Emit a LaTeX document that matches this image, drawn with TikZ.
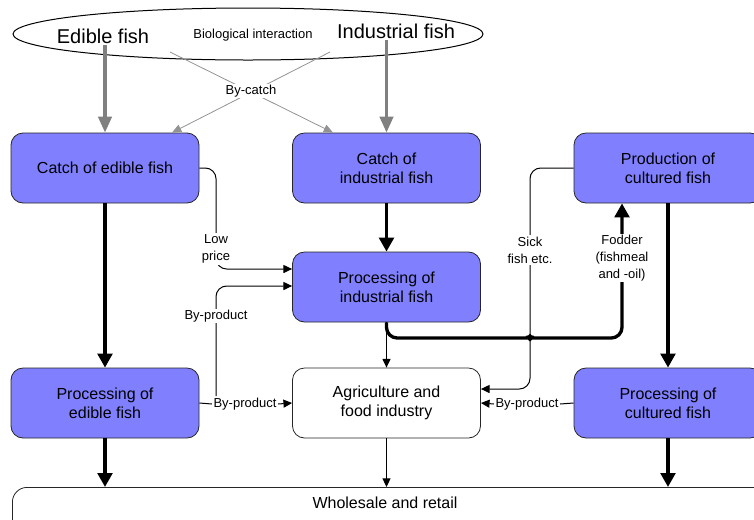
\documentclass[tikz,border=0pt]{standalone}
\usepackage{fontspec}
\setmainfont{Liberation Sans}
\usepackage{xcolor}
\usetikzlibrary{calc}
\usetikzlibrary{arrows.meta, shapes.geometric}
\definecolor{boxblue}{RGB}{128,128,255}
\def\bx{\fontsize{12}{14.25}\selectfont}
\def\lb{\fontsize{9.75}{12.75}\selectfont}
\def\bg{\fontsize{15}{18}\selectfont}

\begin{document}
\begin{tikzpicture}[x=0.75pt,y=-0.75pt,
  fishbox/.style={draw=black!85,line width=0.6pt,rounded corners=9pt,fill=boxblue,
    minimum width=141pt,minimum height=52.5pt,align=center,font=\bx},
  lbl/.style={fill=white,inner sep=1pt,align=center,font=\lb},
  fatarrow/.style={line width=2.5pt,-{Triangle[length=10.5pt,width=11pt]}},
  slimarrow/.style={line width=0.75pt,-{Triangle[length=6.5pt,width=6pt]}},
  greyarrow/.style={gray,line width=2.5pt,-{Triangle[length=12pt,width=10pt]}},
  catchline/.style={gray!85,line width=0.6pt,-{Triangle[length=7pt,width=6pt]}}]
\useasboundingbox (0,0) rectangle (754,519);
\clip (0,0) rectangle (754,519);
\node (pool) at (248,34) [draw,ellipse,line width=0.75pt,minimum width=352.5pt,minimum height=39pt] {};
\node (edible) at (103,36) [inner sep=1pt,font=\bg] {Edible fish};
\node (indus) at (396,31) [inner sep=1pt,font=\bg] {Industrial fish};
\node (bio) at (253,35) [font=\lb] {Biological interaction};
\node (catchE) at (105,168) [fishbox] {Catch of edible fish};
\node (catchI) at (386.5,168) [fishbox] {Catch of\\industrial fish};
\node (prodC) at (668,168) [fishbox] {Production of\\cultured fish};
\node (procI) at (386.5,287) [fishbox] {Processing of\\industrial fish};
\node (procE) at (105,403) [fishbox] {Processing of\\edible fish};
\node (agri) at (386.5,403) [fishbox,fill=white] {Agriculture and\\food industry};
\node (procC) at (668,403) [fishbox] {Processing of\\cultured fish};
\node (whole) at (12,487) [anchor=north west,draw=black!85,line width=0.6pt,rounded corners=11pt,minimum width=570pt,minimum height=36pt] {};
\node (wholeT) at (385,503) [font=\bx] {Wholesale and retail};
\draw[greyarrow] (edible.south -| catchE.north) -- (catchE.north);
\draw[greyarrow] (indus.south -| catchI.north) -- (catchI.north);
\coordinate (bcL) at (170,52);
\coordinate (bcR) at (330,52);
\draw[catchline] (bcL) -- ($(catchI.north)+(-53.5,0)$);
\draw[catchline] (bcR) -- ($(catchE.north)+(67,0)$);
\node (bycatch) at (251,91) [lbl] {By-catch};
\draw[fatarrow] (catchE) -- (procE);
\draw[fatarrow] (catchI) -- (procI);
\draw[fatarrow] (prodC) -- (procC);
\draw[slimarrow] (procI) -- (agri);
\draw[fatarrow] (procE.south) -- (procE.south |- whole.north);
\draw[slimarrow] (agri.south) -- (agri.south |- whole.north);
\draw[fatarrow] (procC.south) -- (procC.south |- whole.north);
\coordinate (lowbend) at (216,249);
\draw[slimarrow,rounded corners=8pt] (catchE.east) -| (lowbend) |- ([yshift=13.5pt]procI.west);
\node (lowprice) at (216,249) [lbl] {Low\\price};
\node (byL) at (245,404) [lbl] {By-product};
\draw[line width=0.75pt] (procE.east) -- (byL.west);
\draw[slimarrow] (byL.east) -- (agri.west);
\coordinate (byLup) at (216,396);
\draw[slimarrow,rounded corners=8pt] (byLup) |- ([yshift=0.75pt]procI.west);
\node (byU) at (216,316) [lbl] {By-product};
\node (byR) at (527,404) [lbl] {By-product};
\draw[line width=0.75pt] (procC.west) -- (byR.east);
\draw[slimarrow] (byR.west) -- (agri.east);
\coordinate (sickbend) at (530,389);
\draw[slimarrow,rounded corners=8pt] (prodC.west) -| (sickbend) -- ([yshift=10.5pt]agri.east);
\node (sick) at (530,250) [lbl] {Sick\\fish etc.};
\coordinate (fodA) at (386.5,338);
\coordinate (fodB) at (622,338);
\draw[fatarrow,line join=round,rounded corners=8pt] (procI.south) -- (fodA) -- (518,338) to[out=0,in=-90] (530,329)
  to[out=-90,in=180] (542,338) -- (fodB) -- ([xshift=-34.5pt]prodC.south);
\node (fodder) at (622,258) [lbl] {Fodder\\(fishmeal\\and -oil)};
\end{tikzpicture}
\end{document}
